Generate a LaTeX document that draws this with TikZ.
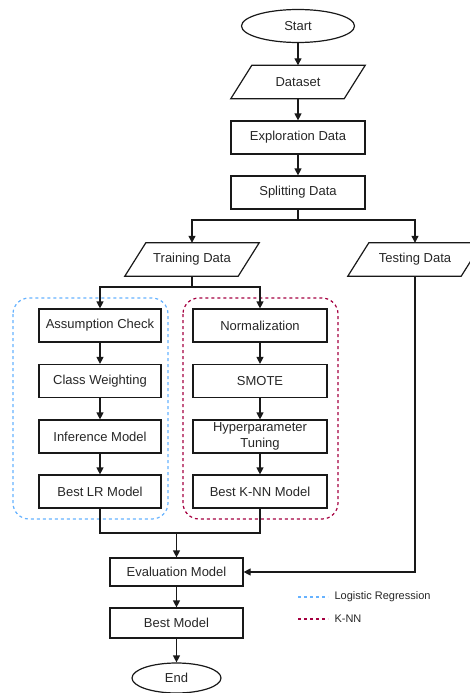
\documentclass[tikz,border=0pt]{standalone}
\usepackage{fontspec}
\setmainfont{Liberation Sans}
\usetikzlibrary{shapes.geometric,arrows.meta,calc}
\definecolor{lrblue}{RGB}{102,178,255}
\definecolor{knnred}{RGB}{165,0,64}
\definecolor{edgec}{RGB}{25,25,25}
\tikzset{
  every node/.style={font=\fontsize{13}{15.5}\selectfont, text=black!85},
  procbox/.style={draw=edgec, line width=1.2pt, rectangle, minimum height=33pt, inner sep=1pt, align=center},
  ovalbox/.style={draw=edgec, line width=1.2pt, ellipse, inner sep=0pt},
  parabox/.style={rectangle, minimum width=113pt, minimum height=33pt, inner sep=0pt},
  conn/.style={draw=edgec, line width=1.2pt},
  arr/.style={conn, -{Triangle[length=7pt,width=7pt]}},
  groupbox/.style={line width=1.2pt, dash pattern=on 3pt off 3pt, rounded corners=16pt},
  legline/.style={line width=1.3pt, dash pattern=on 3pt off 3pt},
  legtext/.style={font=\fontsize{11}{13}\selectfont, anchor=west}
}
\newcommand{\drawpara}[1]{%
  \draw[edgec, line width=1.2pt] ($(#1.south west)+(-10.5,0)$) -- ($(#1.south east)+(-10.5,0)$)
    -- ($(#1.north east)+(10.5,0)$) -- ($(#1.north west)+(10.5,0)$) -- cycle;}
\begin{document}
\begin{tikzpicture}[x=1pt,y=-1pt]
\useasboundingbox (0,0) rectangle (469,693);
% containers
\draw[groupbox, draw=lrblue] (13,298) rectangle (168,519);
\draw[groupbox, draw=knnred] (183,298) rectangle (338,519);
% main column
\node[ovalbox, minimum width=113pt, minimum height=33pt] (start) at (298,26) {Start};
\node[parabox] (dataset) at (298,82) {Dataset};
\drawpara{dataset}
\node[procbox, minimum width=134pt] (explore) at (298,137.5) {Exploration Data};
\node[procbox, minimum width=134pt] (split) at (298,192.5) {Splitting Data};
\node[parabox] (train) at (192,259.5) {Training Data};
\drawpara{train}
\node[parabox] (test) at (415,259.5) {Testing Data};
\drawpara{test}
% left column
\node[procbox, minimum width=122pt] (assump) at (100,325.5) {Assumption Check};
\node[procbox, minimum width=122pt] (classw) at (100,381) {Class Weighting};
\node[procbox, minimum width=122pt] (infer) at (100,436.5) {Inference Model};
\node[procbox, minimum width=122pt] (bestlr) at (100,491.5) {Best LR Model};
% right column
\node[procbox, minimum width=134pt] (norm) at (260,325.5) {Normalization};
\node[procbox, minimum width=134pt] (smote) at (260,381) {SMOTE};
\node[procbox, minimum width=134pt] (hyper) at (260,436.5) {Hyperparameter\\Tuning};
\node[procbox, minimum width=134pt] (bestknn) at (260,491.5) {Best K-NN Model};
% bottom
\node[procbox, minimum width=133pt, minimum height=28pt] (eval) at (176.5,572) {Evaluation Model};
\node[procbox, minimum width=133pt, minimum height=30pt] (best) at (176.5,623) {Best Model};
\node[ovalbox, minimum width=89pt, minimum height=30pt] (end) at (176.5,678) {End};
% connectors
\draw[arr] (start) -- (dataset.north);
\draw[arr] (dataset.south) -- (explore);
\draw[arr] (explore) -- (split);
\coordinate (sj) at (298,220);
\draw[conn] (split.south) -- (sj);
\draw[arr] (sj) -| (train.north);
\draw[arr] (sj) -| (test.north);
\coordinate (tj) at (192,287);
\draw[conn] (train.south) -- (tj);
\draw[arr] (tj) -| (assump.north);
\draw[arr] (tj) -| (norm.north);
\draw[arr] (assump) -- (classw);
\draw[arr] (classw) -- (infer);
\draw[arr] (infer) -- (bestlr);
\draw[arr] (norm) -- (smote);
\draw[arr] (smote) -- (hyper);
\draw[arr] (hyper) -- (bestknn);
\coordinate (mj) at (176.5,533);
\draw[conn] (bestlr.south) |- (mj);
\draw[conn] (bestknn.south) |- (mj);
\draw[arr] (mj) -- (eval.north);
\draw[arr] (test.south) |- (eval.east);
\draw[arr] (eval) -- (best);
\draw[arr] (best) -- (end);
% legend
\coordinate (l1a) at (298,597); \coordinate (l1b) at (328,597);
\coordinate (l2a) at (298,619); \coordinate (l2b) at (328,619);
\draw[legline, lrblue] (l1a) -- (l1b);
\draw[legline, knnred] (l2a) -- (l2b);
\node[legtext] (leg1) at (331,597) {Logistic Regression};
\node[legtext] (leg2) at (331,619) {K-NN};
\end{tikzpicture}
\end{document}
